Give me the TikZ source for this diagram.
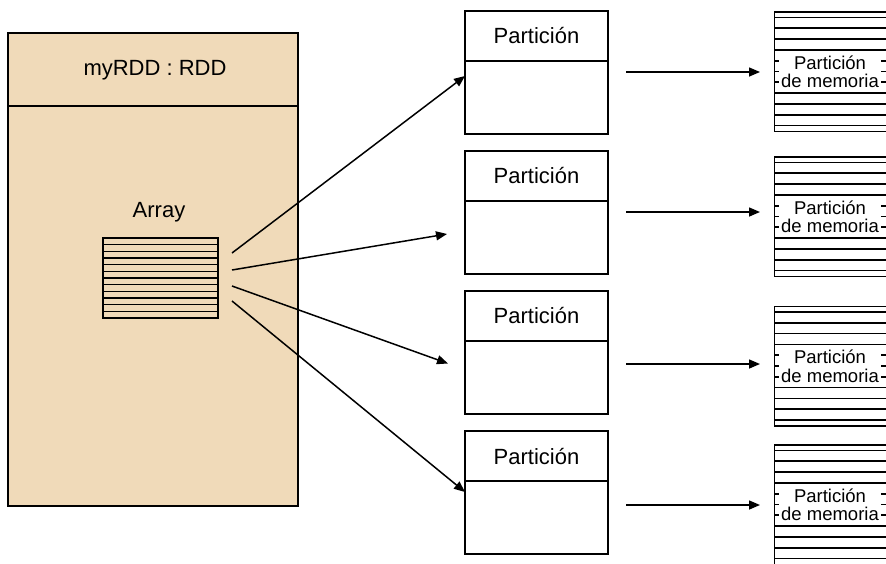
\documentclass[tikz,border=0pt]{standalone}
\usepackage{fontspec}
\setmainfont{Liberation Sans}
\usetikzlibrary{arrows.meta}
\definecolor{rddfill}{RGB}{240,218,185}
\begin{document}
\begin{tikzpicture}[x=1pt,y=-1pt,
  frame/.style={draw=black, line width=1.3pt, inner sep=0pt, outer sep=0pt, anchor=north west},
  rule/.style={draw=black, line width=1.3pt},
  memrule/.style={draw=black, line width=1.7pt},
  link/.style={draw=black, line width=1.5pt, -{Triangle[length=11pt,width=9pt]}},
  biglabel/.style={font=\fontsize{22}{26}\selectfont},
  memlabel/.style={font=\fontsize{18.5}{18.5}\selectfont, fill=white, inner sep=0pt,
    minimum width=102pt, minimum height=34pt, align=center},
]
\useasboundingbox (0,0) rectangle (886,563);

% RDD object box
\node[frame, line width=1.8pt, fill=rddfill, minimum width=290pt, minimum height=473pt] (rdd) at (8,33) {};
\draw[line width=1.8pt] (8,106) -- (298,106);
\node[biglabel] (rddtitle) at (155,70) {myRDD : RDD};
\node[biglabel] (arraylabel) at (159,212) {Array};

% striped array
\node[frame, line width=1.5pt, minimum width=115pt, minimum height=80pt] (arr) at (103,238) {};
\foreach \k in {1,...,11}
  \draw[rule, line width=1.5pt] (103,{238+\k*80/12}) -- (218,{238+\k*80/12});

% partitions
\foreach \i/\t in {1/11,2/151,3/291,4/431}{
  \node[frame, minimum width=143pt, minimum height=123pt] (part\i) at (465,\t) {};
  \draw[rule] (465,{\t+50}) -- (608,{\t+50});
  \node[biglabel] (plabel\i) at (536.5,{\t+25}) {Partición};
}

% memory partitions
\foreach \i/\t in {1/12,2/157,3/306.5,4/445}{
  \node[frame, line width=1.5pt, minimum width=130pt, minimum height=119.5pt] (mem\i) at (774.5,\t) {};
  \foreach \k in {0,...,10}
    \draw[memrule] (774.5,{\t+5.5+\k*10.8}) -- (905,{\t+5.5+\k*10.8});
  \node[memlabel] (mlabel\i) at (830,{\t+60}) {Partición\\de memoria};
}

% array to partitions
\coordinate (s1) at (232,253);
\coordinate (s2) at (232,270);
\coordinate (s3) at (232,286);
\coordinate (s4) at (232,301);
\coordinate (e1) at (465,76);
\coordinate (e2) at (447,234);
\coordinate (e3) at (448,363.5);
\coordinate (e4) at (465,492);
\foreach \i in {1,...,4}
  \draw[link] (s\i) -- (e\i);

% partitions to memory
\foreach \i/\y in {1/72,2/212,3/364,4/505}{
  \coordinate (hs\i) at (626,\y);
  \coordinate (he\i) at (760,\y);
  \draw[link] (hs\i) -- (he\i);
}
\end{tikzpicture}
\end{document}
